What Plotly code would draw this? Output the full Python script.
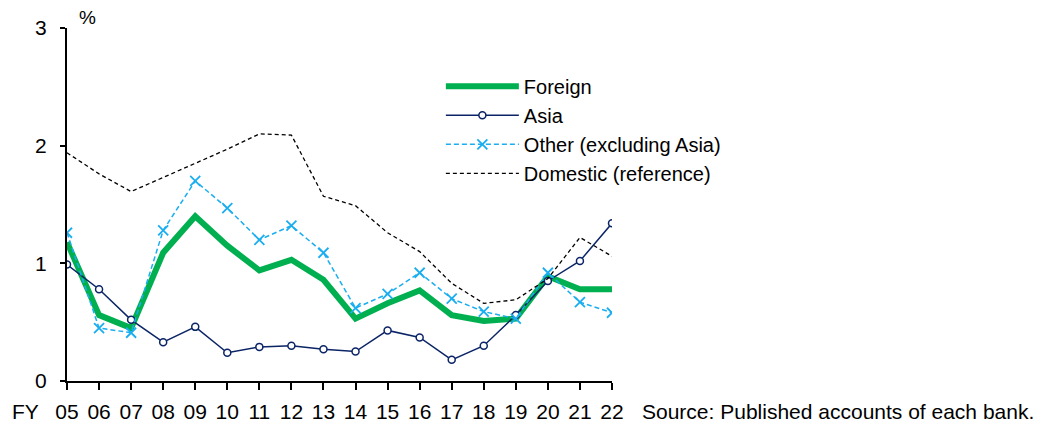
import plotly.graph_objects as go

years = ['05', '06', '07', '08', '09', '10', '11', '12', '13',
         '14', '15', '16', '17', '18', '19', '20', '21', '22']

foreign = [1.18, 0.56, 0.45, 1.09, 1.40, 1.15, 0.94, 1.03, 0.86,
           0.53, 0.66, 0.77, 0.56, 0.51, 0.53, 0.89, 0.78, 0.78]
asia = [0.99, 0.78, 0.52, 0.33, 0.46, 0.24, 0.29, 0.30, 0.27,
        0.25, 0.43, 0.37, 0.18, 0.30, 0.56, 0.85, 1.02, 1.34]
other = [1.26, 0.45, 0.41, 1.28, 1.70, 1.47, 1.20, 1.32, 1.09,
         0.62, 0.74, 0.92, 0.70, 0.59, 0.53, 0.92, 0.67, 0.58]
domestic = [1.94, 1.76, 1.61, 1.73, 1.85, 1.97, 2.10, 2.09, 1.57,
            1.49, 1.26, 1.10, 0.83, 0.66, 0.69, 0.87, 1.22, 1.06]

x = list(range(len(years)))
font = 'Liberation Sans, Arial, sans-serif'

fig = go.Figure()
fig.add_trace(go.Scatter(x=x, y=foreign, name='Foreign', mode='lines',
                         line=dict(color='#00B050', width=6)))
fig.add_trace(go.Scatter(x=x, y=asia, name='Asia', mode='lines+markers',
                         line=dict(color='#0A2466', width=1.5),
                         marker=dict(symbol='circle', size=7, color='white',
                                     line=dict(color='#0A2466', width=1.5))))
fig.add_trace(go.Scatter(x=x, y=other, name='Other (excluding Asia)',
                         mode='lines+markers',
                         line=dict(color='#1AAEF0', width=1.5, dash='5px,3px'),
                         marker=dict(symbol='x-thin', size=10,
                                     line=dict(color='#1AAEF0', width=1.8))))
fig.add_trace(go.Scatter(x=x, y=domestic, name='Domestic (reference)',
                         mode='lines',
                         line=dict(color='black', width=1.3, dash='4px,3px')))

fig.update_xaxes(range=[0, len(years) - 1], tickvals=x, ticktext=years,
                 automargin=False,
                 showgrid=False, zeroline=False, showline=True,
                 linecolor='black', linewidth=2, ticks='outside',
                 ticklen=7, tickwidth=2, tickcolor='black',
                 ticklabelstandoff=4,
                 tickfont=dict(size=21, color='black'))
fig.update_yaxes(range=[0, 3], dtick=1, automargin=False,
                 showgrid=False, zeroline=False,
                 showline=True, linecolor='black', linewidth=2,
                 ticks='outside', ticklen=5, tickwidth=2, tickcolor='black',
                 ticklabelstandoff=9,
                 tickfont=dict(size=21, color='black'))

# page body adds an 8px margin, so the figure is offset by it
fig.add_annotation(text='FY', xref='paper', yref='paper', x=-0.077, y=-0.085,
                   xanchor='center', yanchor='middle', showarrow=False,
                   font=dict(size=21, color='black'))
fig.add_annotation(text='%', xref='paper', yref='paper', x=0.037, y=1.031,
                   xanchor='center', yanchor='middle', showarrow=False,
                   font=dict(size=19, color='black'))
fig.add_annotation(text='Source: Published accounts of each bank.',
                   xref='paper', yref='paper', x=1.051, y=-0.085,
                   xanchor='left', yanchor='middle', showarrow=False,
                   font=dict(size=21, color='black'))

fig.update_layout(
    width=1037, height=419,
    margin=dict(l=59, r=433, t=20, b=46),
    plot_bgcolor='white', paper_bgcolor='white',
    font=dict(family=font, size=21, color='black'),
    showlegend=True,
    legend=dict(x=0.686, y=0.89, xanchor='left', yanchor='top',
                bgcolor='rgba(0,0,0,0)', itemwidth=73,
                font=dict(size=20, color='black')),
)

fig.write_html('out.html')
